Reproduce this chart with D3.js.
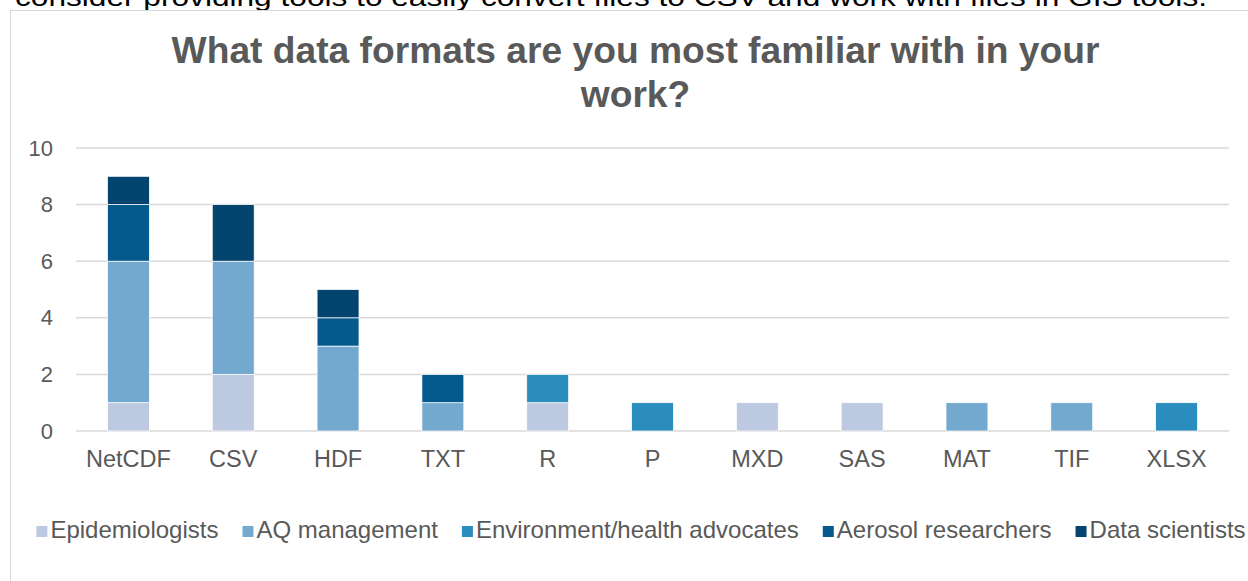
<!DOCTYPE html>
<html>
<head>
<meta charset="utf-8">
<script src="https://cdn.jsdelivr.net/npm/d3@7"></script>
<style>
  html, body { margin: 0; padding: 0; background: #fff; overflow: hidden; }
  svg { display: block; font-family: "Liberation Sans", Arial, sans-serif; }
</style>
</head>
<body>
<svg id="chart" width="1248" height="581"></svg>
<script>
const categories = ["NetCDF", "CSV", "HDF", "TXT", "R", "P", "MXD", "SAS", "MAT", "TIF", "XLSX"];
const seriesNames = ["Epidemiologists", "AQ management", "Environment/health advocates", "Aerosol researchers", "Data scientists"];
const epidemiologists = [1, 2, 0, 0, 1, 0, 1, 1, 0, 0, 0];
const aqManagement    = [5, 4, 3, 1, 0, 0, 0, 0, 1, 1, 0];
const envAdvocates    = [0, 0, 0, 0, 1, 1, 0, 0, 0, 0, 1];
const aerosol         = [2, 0, 1, 1, 0, 0, 0, 0, 0, 0, 0];
const dataScientists  = [1, 2, 1, 0, 0, 0, 0, 0, 0, 0, 0];
const yTicks = [0, 2, 4, 6, 8, 10];
const colors = ["#bdc9e1", "#74a9cf", "#2b8cbe", "#045a8d", "#03456f"];
const titleLines = ["What data formats are you most familiar with in your", "work?"];
const topText = "consider providing tools to easily convert files to CSV and work with files in GIS tools.";

const seriesValues = [epidemiologists, aqManagement, envAdvocates, aerosol, dataScientists];
const table = categories.map((c, i) => {
  const row = { category: c };
  seriesNames.forEach((s, k) => row[s] = seriesValues[k][i]);
  return row;
});

const svg = d3.select("#chart");

// cut-off text above chart
svg.append("text")
  .attr("x", 15).attr("y", 6)
  .attr("font-size", 26)
  .attr("fill", "#000")
  .attr("textLength", 1192)
  .attr("lengthAdjust", "spacingAndGlyphs")
  .text(topText);

// chart border
svg.append("rect")
  .attr("x", 10.5).attr("y", 10.5)
  .attr("width", 1300).attr("height", 700)
  .attr("fill", "#fff")
  .attr("stroke", "#d9d9d9").attr("stroke-width", 1);

// title
svg.append("text")
  .attr("x", 635).attr("text-anchor", "middle")
  .attr("font-size", 37.2).attr("font-weight", "bold")
  .attr("fill", "#595959")
  .selectAll("tspan").data(titleLines).join("tspan")
  .attr("x", 635.5)
  .attr("y", (d, i) => 63 + i * 44)
  .text(d => d);

const x = d3.scaleBand().domain(categories).range([76, 1229]).paddingInner(0.6).paddingOuter(0.3);
const y = d3.scaleLinear().domain([0, 10]).range([431, 148]);

// gridlines
svg.append("g")
  .selectAll("line").data(yTicks).join("line")
  .attr("x1", 76).attr("x2", 1229)
  .attr("y1", d => y(d)).attr("y2", d => y(d))
  .attr("stroke", "#d9d9d9").attr("stroke-width", 1.5);

// y axis labels
const yAxis = d3.axisLeft(y).tickValues(yTicks).tickSize(0).tickPadding(0);
const gy = svg.append("g").attr("transform", "translate(53,0)").call(yAxis);
gy.select(".domain").remove();
gy.selectAll("text").attr("font-size", 22).attr("fill", "#595959")
  .attr("font-family", "Liberation Sans, Arial, sans-serif");

// stacked bars
const stack = d3.stack().keys(seriesNames)(table);
svg.append("g").selectAll("g").data(stack).join("g")
  .attr("fill", (d, i) => colors[i])
  .selectAll("rect").data(d => d.filter(p => p[1] - p[0] > 0)).join("rect")
  .attr("x", d => x(d.data.category))
  .attr("width", x.bandwidth())
  .attr("y", d => y(d[1]))
  .attr("height", d => y(d[0]) - y(d[1]))
  .attr("stroke", "#fff").attr("stroke-width", 0.75);

// x axis labels
const xAxis = d3.axisBottom(x).tickSize(0).tickPadding(0);
const gx = svg.append("g").attr("transform", "translate(0,431)").call(xAxis);
gx.select(".domain").remove();
gx.selectAll("text").attr("font-size", 23.5).attr("fill", "#595959")
  .attr("dy", null).attr("y", 36)
  .attr("font-family", "Liberation Sans, Arial, sans-serif");

// legend
const legend = svg.append("g");
const items = legend.selectAll("g").data(seriesNames).join("g");
items.append("rect")
  .attr("width", 11).attr("height", 11)
  .attr("y", 526)
  .attr("fill", (d, i) => colors[i]);
items.append("text")
  .attr("x", 14).attr("y", 538)
  .attr("font-size", 24).attr("fill", "#595959")
  .text(d => d);
const gap = 24;
let widths = [];
items.each(function() { widths.push(this.querySelector("text").getComputedTextLength() + 14); });
const total = d3.sum(widths) + gap * (widths.length - 1);
let cx = 641 - total / 2;
items.attr("transform", (d, i) => {
  const t = `translate(${cx},0)`;
  cx += widths[i] + gap;
  return t;
});
</script>
</body>
</html>
